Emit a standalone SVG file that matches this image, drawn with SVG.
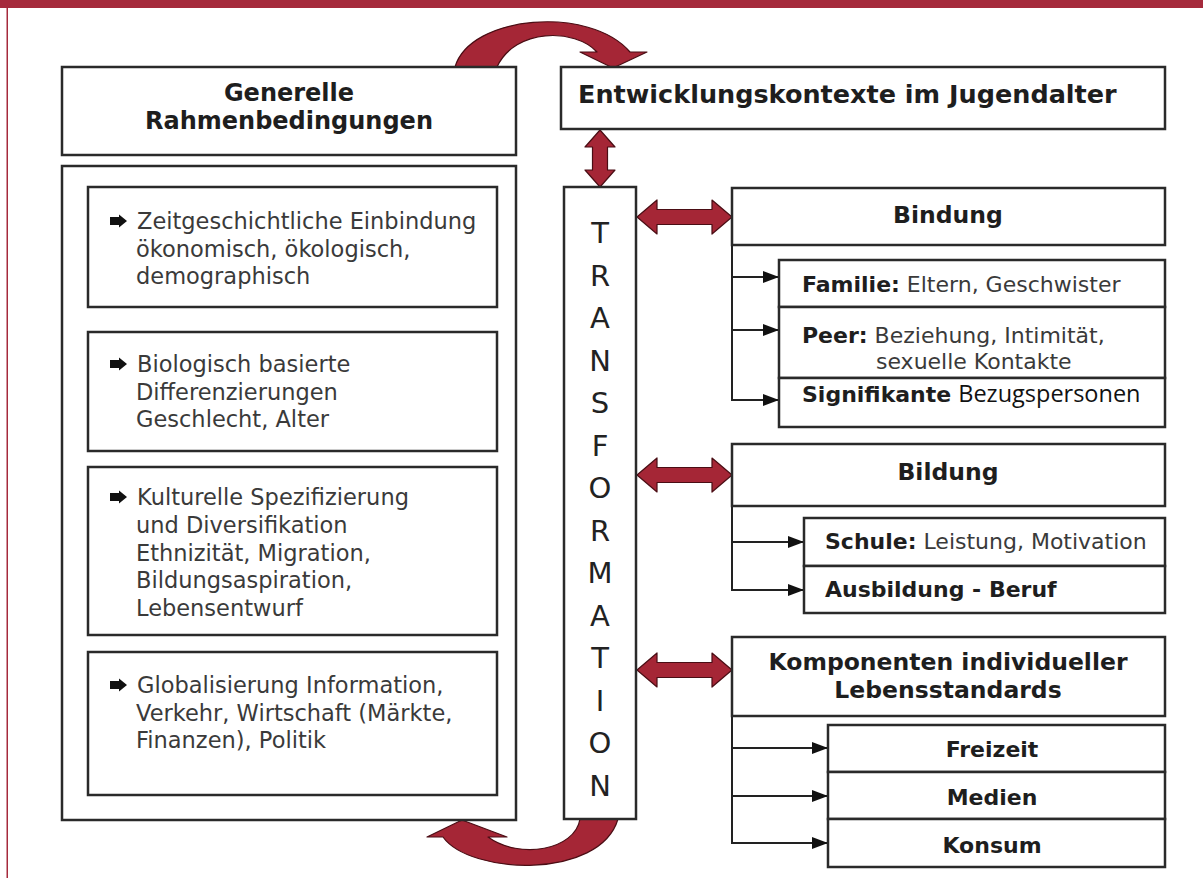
<svg xmlns="http://www.w3.org/2000/svg" width="1203" height="878" viewBox="0 0 1203 878">
<style>
  .box{fill:#fff;stroke:#2a2a2a;stroke-width:2.5}
  .hd{font-family:"DejaVu Sans",Verdana,sans-serif;font-weight:bold;fill:#1e1e1e}
  .tx{font-family:"DejaVu Sans",Verdana,sans-serif;fill:#3a3a3a;font-size:22px}
  .lt{font-size:22.5px}
  .b{font-weight:bold;fill:#1e1e1e}
  .tf{font-family:"DejaVu Sans",Verdana,sans-serif;fill:#222;font-size:29px;text-anchor:middle}
  .red{fill:#a52636;stroke:#4a0d14;stroke-width:1.2;stroke-linejoin:round}
  .ln{fill:none;stroke:#222;stroke-width:2}
  .bul{fill:#111}
</style>
<defs>
  <marker id="ah" viewBox="0 0 16 12" refX="16" refY="6" markerWidth="16" markerHeight="12" markerUnits="userSpaceOnUse" orient="auto">
    <path d="M0,0 L16,6 L0,12 Z" fill="#111"/>
  </marker>
  <path id="bullet" d="M0,-4 L9,-4 L9,-6.5 L17,0 L9,6.5 L9,4 L0,4 Z"/>
</defs>
<rect width="1203" height="878" fill="#fff"/>
<rect x="0" y="0" width="1203" height="8" fill="#a52a3c"/>
<rect x="6.5" y="8" width="1.5" height="870" fill="#a52a3c"/>

<g id="connectors">
  <path class="red" d="M455,67 C470,15 590,5 630,52 L647,52 L613,68 L580,52 L597,52 C575,28 515,28 497,67 Z"/>
  <path class="red" d="M580,819 C575,850 520,860 488,837 L507,837 L462,820 L427,837 L443,837 C470,875 600,880 618,819 Z"/>
  <polygon class="red" points="600,130 615,147 607.5,147 607.5,170 615,170 600,187 585,170 592.5,170 592.5,147 585,147"/>
  <polygon class="red" points="637,217 657,200 657,209.5 712,209.5 712,200 732,217 712,234 712,224.5 657,224.5 657,234"/>
  <polygon class="red" points="637,475 657,458 657,467.5 712,467.5 712,458 732,475 712,492 712,482.5 657,482.5 657,492"/>
  <polygon class="red" points="637,670 657,653 657,662.5 712,662.5 712,653 732,670 712,687 712,677.5 657,677.5 657,687"/>
  <path class="ln" d="M732,245 V400"/>
  <line class="ln" x1="732" y1="277" x2="779" y2="277" marker-end="url(#ah)"/>
  <line class="ln" x1="732" y1="330" x2="779" y2="330" marker-end="url(#ah)"/>
  <line class="ln" x1="731" y1="400" x2="779" y2="400" marker-end="url(#ah)"/>
  <path class="ln" d="M732,506 V590"/>
  <line class="ln" x1="732" y1="542" x2="804" y2="542" marker-end="url(#ah)"/>
  <line class="ln" x1="731" y1="590" x2="804" y2="590" marker-end="url(#ah)"/>
  <path class="ln" d="M732,716 V843"/>
  <line class="ln" x1="732" y1="748" x2="828" y2="748" marker-end="url(#ah)"/>
  <line class="ln" x1="732" y1="796" x2="828" y2="796" marker-end="url(#ah)"/>
  <line class="ln" x1="731" y1="843" x2="828" y2="843" marker-end="url(#ah)"/>
</g>

<g id="generelle">
  <rect class="box" x="62" y="67" width="454" height="88"/>
  <text class="hd" font-size="24" text-anchor="middle" x="289" y="101">Generelle</text>
  <text class="hd" font-size="24" text-anchor="middle" x="289" y="129">Rahmenbedingungen</text>
</g>

<g id="rahmen-body">
  <rect class="box" x="62" y="166" width="454" height="654"/>
</g>

<g id="zeit">
  <rect class="box" x="88" y="187" width="409" height="120"/>
  <use href="#bullet" class="bul" x="110" y="221"/>
  <text class="tx lt"><tspan x="137" y="229">Zeitgeschichtliche Einbindung</tspan><tspan x="136" y="257">ökonomisch, ökologisch,</tspan><tspan x="136" y="284">demographisch</tspan></text>
</g>

<g id="bio">
  <rect class="box" x="88" y="332" width="409" height="119"/>
  <use href="#bullet" class="bul" x="110" y="364"/>
  <text class="tx lt"><tspan x="137" y="372">Biologisch basierte</tspan><tspan x="136" y="400">Differenzierungen</tspan><tspan x="136" y="427">Geschlecht, Alter</tspan></text>
</g>

<g id="kultur">
  <rect class="box" x="88" y="467" width="409" height="168"/>
  <use href="#bullet" class="bul" x="110" y="497"/>
  <text class="tx lt"><tspan x="137" y="505">Kulturelle Spezifizierung</tspan><tspan x="136" y="533">und Diversifikation</tspan><tspan x="136" y="561">Ethnizität, Migration,</tspan><tspan x="136" y="588">Bildungsaspiration,</tspan><tspan x="136" y="616">Lebensentwurf</tspan></text>
</g>

<g id="global">
  <rect class="box" x="88" y="652" width="409" height="143"/>
  <use href="#bullet" class="bul" x="110" y="685"/>
  <text class="tx lt"><tspan x="137" y="693">Globalisierung Information,</tspan><tspan x="136" y="721">Verkehr, Wirtschaft (Märkte,</tspan><tspan x="136" y="748">Finanzen), Politik</tspan></text>
</g>

<g id="entwicklung">
  <rect class="box" x="561" y="67" width="604" height="62"/>
  <text class="hd" font-size="25.5" x="578" y="103">Entwicklungskontexte im Jugendalter</text>
</g>

<g id="transformation">
  <rect class="box" x="564" y="187" width="72" height="632"/>
  <text class="tf"><tspan x="600" y="243">T</tspan><tspan x="600" y="285.5">R</tspan><tspan x="600" y="328">A</tspan><tspan x="600" y="370.5">N</tspan><tspan x="600" y="413">S</tspan><tspan x="600" y="455.5">F</tspan><tspan x="600" y="498">O</tspan><tspan x="600" y="540.5">R</tspan><tspan x="600" y="583">M</tspan><tspan x="600" y="625.5">A</tspan><tspan x="600" y="668">T</tspan><tspan x="600" y="710.5">I</tspan><tspan x="600" y="753">O</tspan><tspan x="600" y="795.5">N</tspan></text>
</g>

<g id="bindung">
  <rect class="box" x="732" y="188" width="433" height="57"/>
  <text class="hd" font-size="23.5" text-anchor="middle" x="948" y="223">Bindung</text>
</g>
<g id="familie">
  <rect class="box" x="779" y="260" width="386" height="47"/>
  <text class="tx" x="802" y="292"><tspan class="b">Familie:</tspan> Eltern, Geschwister</text>
</g>
<g id="peer">
  <rect class="box" x="779" y="307" width="386" height="71"/>
  <text class="tx"><tspan x="802" y="343" class="b">Peer:</tspan> Beziehung, Intimität,<tspan x="876" y="369">sexuelle Kontakte</tspan></text>
</g>
<g id="signifikante">
  <rect class="box" x="779" y="378" width="386" height="49"/>
  <text class="tx" x="802" y="402"><tspan class="b">Signifikante</tspan> <tspan style="font-family:'Open Sans','Noto Sans',sans-serif;fill:#111;font-size:23.5px">Bezugspersonen</tspan></text>
</g>

<g id="bildung">
  <rect class="box" x="732" y="444" width="433" height="62"/>
  <text class="hd" font-size="23.5" text-anchor="middle" x="948" y="480">Bildung</text>
</g>
<g id="schule">
  <rect class="box" x="804" y="518" width="361" height="48"/>
  <text class="tx" x="825" y="549"><tspan class="b">Schule:</tspan> Leistung, Motivation</text>
</g>
<g id="ausbildung">
  <rect class="box" x="804" y="566" width="361" height="47"/>
  <text class="tx b" x="825" y="597">Ausbildung - Beruf</text>
</g>

<g id="komponenten">
  <rect class="box" x="732" y="637" width="433" height="79"/>
  <text class="hd" font-size="23.5" text-anchor="middle"><tspan x="948" y="670">Komponenten individueller</tspan><tspan x="948" y="698">Lebensstandards</tspan></text>
</g>
<g id="freizeit">
  <rect class="box" x="828" y="725" width="337" height="47"/>
  <text class="hd" font-size="22" text-anchor="middle" x="992" y="757">Freizeit</text>
</g>
<g id="medien">
  <rect class="box" x="828" y="772" width="337" height="47"/>
  <text class="hd" font-size="22" text-anchor="middle" x="992" y="805">Medien</text>
</g>
<g id="konsum">
  <rect class="box" x="828" y="819" width="337" height="48"/>
  <text class="hd" font-size="22" text-anchor="middle" x="992" y="853">Konsum</text>
</g>
</svg>
